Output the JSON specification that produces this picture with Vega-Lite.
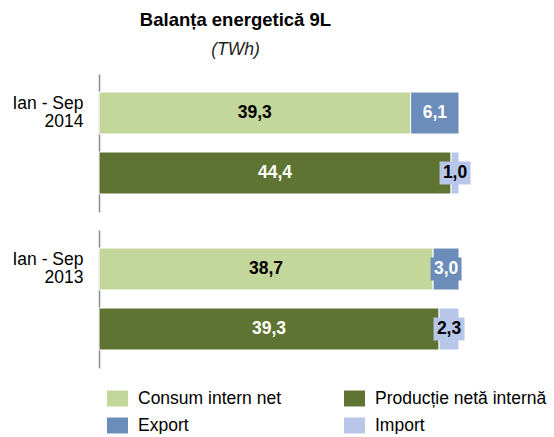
{
  "$schema": "https://vega.github.io/schema/vega-lite/v6.json",
  "padding": {"left": 11, "top": 11, "right": 0, "bottom": 0},
  "background": "white",
  "config": {
    "font": "Liberation Sans",
    "view": {"stroke": null},
    "locale": {"number": {"decimal": ",", "thousands": ".", "grouping": [3], "currency": ["", ""]}}
  },
  "title": {
    "text": "Balanța energetică 9L",
    "subtitle": "(TWh)",
    "font": "Liberation Sans",
    "fontSize": 18.5,
    "fontWeight": "bold",
    "color": "black",
    "subtitleFont": "Liberation Sans",
    "subtitleFontSize": 17.5,
    "subtitleFontStyle": "italic",
    "subtitleColor": "#222222",
    "subtitlePadding": 11,
    "anchor": "middle",
    "dx": -44,
    "offset": 16
  },
  "data": {
    "values": [
      {"year": "2014", "bar": "2014-1", "type": "Consum intern net", "o": 1, "v": 39.3},
      {"year": "2014", "bar": "2014-1", "type": "Export", "o": 2, "v": 6.1},
      {"year": "2014", "bar": "2014-2", "type": "Producție netă internă", "o": 1, "v": 44.4},
      {"year": "2014", "bar": "2014-2", "type": "Import", "o": 2, "v": 1.0},
      {"year": "2013", "bar": "2013-1", "type": "Consum intern net", "o": 1, "v": 38.7},
      {"year": "2013", "bar": "2013-1", "type": "Export", "o": 2, "v": 3.0},
      {"year": "2013", "bar": "2013-2", "type": "Producție netă internă", "o": 1, "v": 39.3},
      {"year": "2013", "bar": "2013-2", "type": "Import", "o": 2, "v": 2.3}
    ]
  },
  "transform": [
    {"stack": "v", "groupby": ["bar"], "sort": [{"field": "o", "order": "ascending"}], "offset": "normalize", "as": ["x0", "x1"]},
    {"calculate": "(datum.x0 + datum.x1) / 2", "as": "xm"}
  ],
  "facet": {
    "row": {"field": "year", "type": "nominal", "sort": "descending", "header": {"title": null, "labels": false}}
  },
  "spacing": 18,
  "resolve": {"scale": {"y": "independent"}},
  "spec": {
    "width": 360,
    "height": 138,
    "encoding": {
      "y": {
        "field": "bar",
        "type": "nominal",
        "sort": "ascending",
        "scale": {"paddingInner": 0.3, "paddingOuter": 0.3},
        "axis": {
          "title": null,
          "domainColor": "#8c8c8c",
          "domainWidth": 1.5,
          "ticks": false,
          "labelPadding": 16,
          "labelFontSize": 17.5,
          "labelColor": "black",
          "labelFont": "Liberation Sans",
          "labelLineHeight": 18,
          "labelOffset": -9,
          "labelExpr": "substring(datum.value, 5) == '1' ? ['Ian - Sep', substring(datum.value, 0, 4)] : ''"
        }
      }
    },
    "layer": [
      {
        "mark": {"type": "bar", "stroke": "white", "strokeWidth": 1},
        "encoding": {
          "x": {"field": "x0", "type": "quantitative", "scale": {"domain": [0, 1]}, "axis": null},
          "x2": {"field": "x1"},
          "color": {
            "field": "type",
            "type": "nominal",
            "scale": {
              "domain": ["Consum intern net", "Export", "Producție netă internă", "Import"],
              "range": ["#C4D79B", "#6C8CBA", "#5F7432", "#B8C6EA"]
            },
            "legend": {
              "orient": "none",
              "legendX": 8,
              "legendY": 314,
              "title": null,
              "columns": 2,
              "columnPadding": 63,
              "rowPadding": 8,
              "symbolType": "M-1,-0.76H1V0.76H-1Z",
              "symbolSize": 441,
              "symbolStrokeWidth": 0,
              "symbolOpacity": 1,
              "labelFontSize": 17.5,
              "labelFont": "Liberation Sans",
              "labelColor": "black",
              "labelOffset": 10,
              "labelLimit": 300
            }
          }
        }
      },
      {
        "mark": {"type": "point", "shape": "M-1,-0.74H1V0.74H-1Z", "size": 961, "filled": true, "opacity": 1, "strokeWidth": 0},
        "encoding": {
          "x": {"field": "xm", "type": "quantitative"},
          "color": {"field": "type", "type": "nominal", "legend": null}
        }
      },
      {
        "mark": {"type": "text", "fontSize": 17.5, "fontWeight": "bold", "font": "Liberation Sans", "baseline": "middle", "align": "center"},
        "encoding": {
          "x": {"field": "xm", "type": "quantitative"},
          "text": {"field": "v", "type": "quantitative", "format": ".1f"},
          "color": {
            "condition": {"test": "datum.type == 'Consum intern net' || datum.type == 'Import'", "value": "black"},
            "value": "white"
          }
        }
      }
    ]
  }
}
